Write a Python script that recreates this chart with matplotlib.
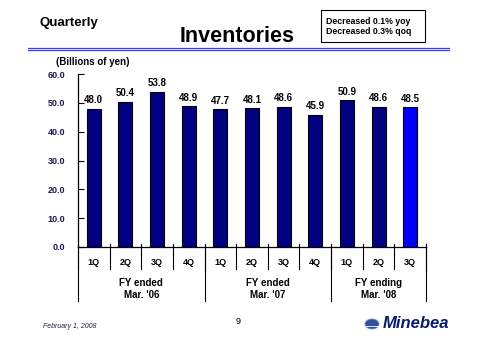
import matplotlib.pyplot as plt
from matplotlib.patches import Ellipse, Rectangle
from matplotlib.lines import Line2D

plt.rcParams['font.family'] = ['Liberation Sans', 'DejaVu Sans']

# Inventories, billions of yen
quarters = ['1Q', '2Q', '3Q', '4Q', '1Q', '2Q', '3Q', '4Q', '1Q', '2Q', '3Q']
values = [48.0, 50.4, 53.8, 48.9, 47.7, 48.1, 48.6, 45.9, 50.9, 48.6, 48.5]
fiscal_years = ['FY ended\nMar. \'06', 'FY ended\nMar. \'07', 'FY ending\nMar. \'08']
fy_sizes = [4, 4, 3]
yticks = [0, 10, 20, 30, 40, 50, 60]

navy = '#000080'
colors = [navy] * (len(values) - 1) + ['#0000ff']

fig = plt.figure(figsize=(4.8, 3.4), dpi=100)
ax = fig.add_axes([78 / 480, 1 - 247 / 340, 348 / 480, 173 / 340])

x = list(range(len(values)))
ax.bar(x, values, width=0.44, color=colors, edgecolor='black', linewidth=0.8, zorder=3)
for xi, v in zip(x, values):
    ax.text(xi, v + 1.2, f'{v:.1f}', ha='center', va='bottom', fontsize=7,
            fontweight='bold', color='black')

ax.set_xlim(-0.5, len(values) - 0.5)
ax.set_ylim(0, 60)
ax.set_yticks(yticks)
ax.set_yticklabels([f'{t:.1f}' for t in yticks], fontsize=6.5, fontweight='bold', color='#1a1a50')
ax.tick_params(axis='y', direction='in', length=4, width=0.8, pad=9)
ax.set_xticks([])
for s in ['top', 'right']:
    ax.spines[s].set_visible(False)
for s in ['left', 'bottom']:
    ax.spines[s].set_linewidth(0.9)

# category axis drawn beneath the plot
tr = ax.get_xaxis_transform()
for i in range(len(values) + 1):
    xb = i - 0.5
    ax.add_line(Line2D([xb, xb], [0, -0.125], transform=tr, color='black', lw=0.8, clip_on=False))
    ax.add_line(Line2D([xb, xb], [0, 0.02], transform=tr, color='black', lw=0.8, clip_on=False))
for xi, q in zip(x, quarters):
    ax.text(xi, -0.088, q, transform=tr, ha='center', va='center', fontsize=6.5, fontweight='bold')

start = 0
bounds = [0]
for n, label in zip(fy_sizes, fiscal_years):
    mid = start + (n - 1) / 2
    ax.text(mid, -0.24, label, transform=tr, ha='center', va='center', fontsize=7,
            fontweight='bold', linespacing=1.25)
    start += n
    bounds.append(start)
for b in bounds:
    ax.add_line(Line2D([b - 0.5, b - 0.5], [0, -0.31], transform=tr, color='black', lw=0.8, clip_on=False))

# header
fig.text(40 / 480, 1 - 23 / 340, 'Quarterly', fontsize=9.5, fontweight='bold', va='center')
fig.text(237 / 480, 1 - 37 / 340, 'Inventories', fontsize=15.5, fontweight='bold',
         ha='center', va='center')
for yy in [47.5, 50]:
    fig.add_artist(Line2D([28 / 480, 449 / 480], [1 - yy / 340] * 2, color='#3a3aff', lw=0.9))
fig.add_artist(Rectangle((321 / 480, 1 - 42 / 340), 104 / 480, 32 / 340, transform=fig.transFigure,
                         fill=False, edgecolor='black', lw=0.8))
fig.text(326 / 480, 1 - 21 / 340, 'Decreased 0.1% yoy', fontsize=6.3, fontweight='bold', va='center')
fig.text(326 / 480, 1 - 32 / 340, 'Decreased 0.3% qoq', fontsize=6.3, fontweight='bold', va='center')
fig.text(56 / 480, 1 - 62 / 340, '(Billions of yen)', fontsize=7, fontweight='bold', va='center')

# footer
fig.text(43 / 480, 1 - 326 / 340, 'February 1, 2008', fontsize=5, fontstyle='italic',
         va='center', color='#202040')
fig.text(238 / 480, 1 - 322 / 340, '9', fontsize=6.5, ha='center', va='center')
fig.add_artist(Ellipse((372 / 480, 1 - 324 / 340), 14 / 480, 10 / 340, transform=fig.transFigure,
                       facecolor='#3050a0', edgecolor='#8090c0', lw=0.6))
fig.add_artist(Line2D([366 / 480, 378 / 480], [1 - 325.5 / 340] * 2, color='white', lw=0.6))
fig.text(383 / 480, 1 - 324 / 340, 'Minebea', fontsize=12, fontweight='bold', fontstyle='italic',
         va='center', color='#0a1a70')

fig.savefig('out.png', dpi=100)
